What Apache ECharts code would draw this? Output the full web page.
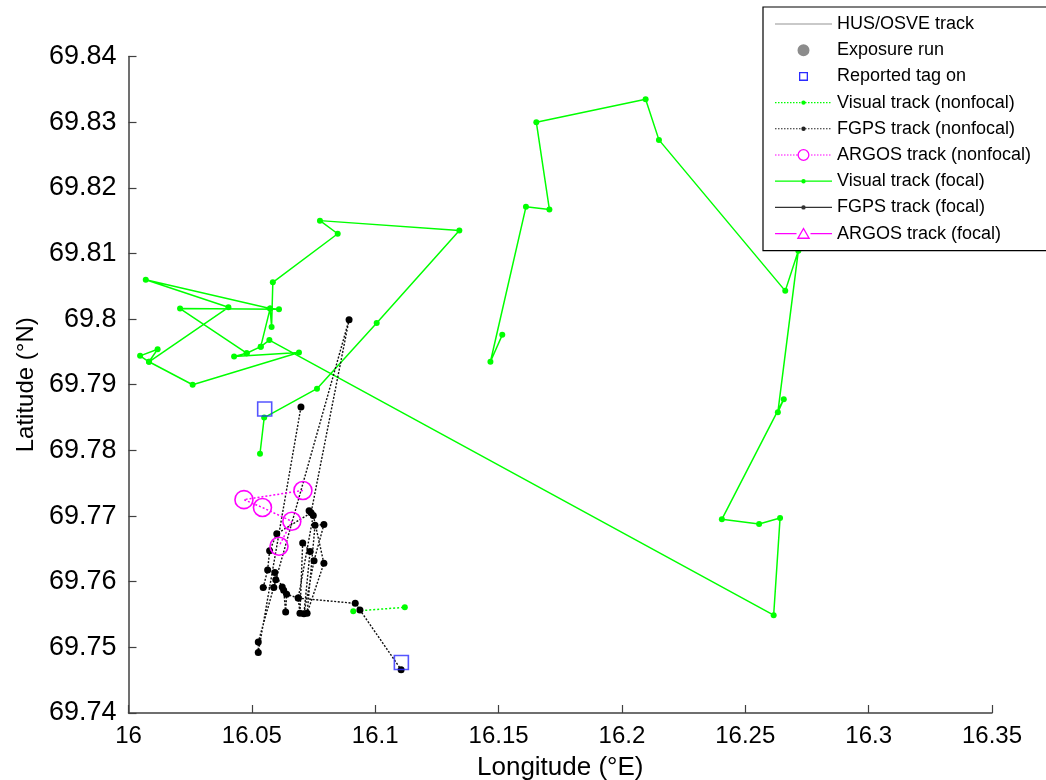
<!DOCTYPE html>
<html><head><meta charset="utf-8">
<script src="https://cdn.jsdelivr.net/npm/echarts@6/dist/echarts.min.js"></script>
<style>html,body{margin:0;padding:0;background:#fff}#chart{width:1046px;height:780px}</style>
</head><body><div id="chart"></div>
<script>
// ---------- data (longitude °E / latitude °N) ----------
const xTicks = [16, 16.05, 16.1, 16.15, 16.2, 16.25, 16.3, 16.35];
const yTicks = [69.74, 69.75, 69.76, 69.77, 69.78, 69.79, 69.8, 69.81, 69.82, 69.83, 69.84];

const focalVisualLon = [16.0533,16.0550,16.0764,16.1006,16.1341,16.0776,16.0848,16.0585,16.0580,16.0574,
  16.0070,16.0405,16.0083,16.0047,16.0118,16.0083,16.0260,16.0691,16.0428,16.0479,16.0536,16.0574,16.0610,
  16.0209,16.0479,16.0536,16.0571,16.2615,16.2641,16.2556,16.2405,16.2656,16.2632,16.2715,16.2662,16.2150,
  16.2096,16.1653,16.1706,16.1611,16.1467,16.1515];
const focalVisualLat = [69.7795,69.7850,69.7894,69.7994,69.8135,69.8150,69.8130,69.8056,69.7988,69.8016,
  69.8060,69.8018,69.7935,69.7944,69.7954,69.7935,69.7900,69.7949,69.7943,69.7948,69.7958,69.8016,69.8015,
  69.8016,69.7948,69.7958,69.7968,69.7549,69.7697,69.7688,69.7695,69.7878,69.7858,69.8104,69.8043,69.8273,
  69.8335,69.8300,69.8167,69.8171,69.7935,69.7976];

const nonfocalVisualLon = [16.0911, 16.1120];
const nonfocalVisualLat = [69.7555, 69.7561];

const nonfocalFgpsLon = [16.0699,16.0526,16.0526,16.0894,16.0740,16.0732,16.0601,16.0572,16.0564,16.0546,
  16.0589,16.0597,16.0593,16.0623,16.0629,16.0637,16.0641,16.0688,16.0695,16.0706,16.0736,16.0711,16.0752,
  16.0792,16.0756,16.0724,16.0792,16.0749,16.0688,16.0919,16.0938,16.1105];
const nonfocalFgpsLat = [69.7866,69.7492,69.7508,69.7999,69.7705,69.7708,69.7673,69.7647,69.7618,69.7591,
  69.7591,69.7603,69.7614,69.7592,69.7587,69.7554,69.7581,69.7575,69.7552,69.7659,69.7646,69.7551,69.7632,
  69.7687,69.7686,69.7552,69.7628,69.7701,69.7575,69.7567,69.7557,69.7466];

const nonfocalArgosLon = [16.0707, 16.0468, 16.0543, 16.0662, 16.0610];
const nonfocalArgosLat = [69.7739, 69.7725, 69.7713, 69.7692, 69.7654];

const tagOnLon = [16.0552, 16.1106];
const tagOnLat = [69.7863, 69.7477];

const seriesNames = ['HUS/OSVE track','Exposure run','Reported tag on','Visual track (nonfocal)',
  'FGPS track (nonfocal)','ARGOS track (nonfocal)','Visual track (focal)','FGPS track (focal)','ARGOS track (focal)'];

// ---------- helpers ----------
const pairs = (xs, ys) => xs.map((x, i) => [x, ys[i]]);
const GREEN = '#00ff00', MAG = '#ff00ff', BLUE = '#2b2bff', BLK = '#000000';

// legend icons drawn in a 57 x 14 box
const W = 57, H = 14, CY = 7;
const anchor = 'M0,0h0.001v0.001h-0.001Z M' + (W - 0.001) + ',' + (H - 0.001) + 'h0.001v0.001h-0.001Z ';
function solidLine(skipA, skipB, th) {
  th = th || 1.2;
  const y0 = CY - th / 2;
  if (skipA == null) return `M0,${y0}H${W}V${y0 + th}H0Z `;
  return `M0,${y0}H${skipA}V${y0 + th}H0Z M${skipB},${y0}H${W}V${y0 + th}H${skipB}Z `;
}
function dottedLine(skipA, skipB) {
  let p = '';
  const th = 1.1, y0 = CY - th / 2;
  for (let x = 0; x < W; x += 3) {
    const x1 = Math.min(x + 1.5, W);
    if (skipA != null && x1 > skipA && x < skipB) continue;
    p += `M${x},${y0}H${x1}V${y0 + th}H${x}Z `;
  }
  return p;
}
function disc(cx, cy, r) {
  return `M${cx + r},${cy}A${r},${r} 0 1,1 ${cx - r},${cy}A${r},${r} 0 1,1 ${cx + r},${cy}Z `;
}
function ring(cx, cy, r, t) {
  const ri = r - t;
  return disc(cx, cy, r) + `M${cx + ri},${cy}A${ri},${ri} 0 1,0 ${cx - ri},${cy}A${ri},${ri} 0 1,0 ${cx + ri},${cy}Z `;
}
function sqRing(cx, cy, s, t) {
  const a = s / 2, b = a - t;
  return `M${cx - a},${cy - a}H${cx + a}V${cy + a}H${cx - a}Z M${cx - b},${cy - b}V${cy + b}H${cx + b}V${cy - b}Z `;
}
function triRing(cx, cy, s, t) {
  const h = s * 0.87;
  const top = cy - h * 0.55, bot = cy + h * 0.45;
  const ti = top + t * 2, bi = bot - t, hw = s / 2, hwi = hw - t * 1.8;
  return `M${cx},${top}L${cx + hw},${bot}L${cx - hw},${bot}Z M${cx},${ti}L${cx - hwi},${bi}L${cx + hwi},${bi}Z `;
}
const MX = W / 2;
const legendIcons = {
  'HUS/OSVE track': anchor + solidLine(null, null, 1.4),
  'Exposure run': anchor + disc(MX, CY, 6),
  'Reported tag on': anchor + sqRing(MX, CY, 9, 1.3),
  'Visual track (nonfocal)': anchor + dottedLine() + disc(MX, CY, 2.2),
  'FGPS track (nonfocal)': anchor + dottedLine() + disc(MX, CY, 2.2),
  'ARGOS track (nonfocal)': anchor + dottedLine(MX - 6, MX + 6) + ring(MX, CY, 6, 1.3),
  'Visual track (focal)': anchor + solidLine() + disc(MX, CY, 2.2),
  'FGPS track (focal)': anchor + solidLine() + disc(MX, CY, 2.2),
  'ARGOS track (focal)': anchor + solidLine(MX - 7, MX + 7) + triRing(MX, CY, 13.5, 1.3)
};
const legendColors = {
  'HUS/OSVE track': '#b8b8b8', 'Exposure run': '#8c8c8c', 'Reported tag on': BLUE,
  'Visual track (nonfocal)': GREEN, 'FGPS track (nonfocal)': '#222', 'ARGOS track (nonfocal)': MAG,
  'Visual track (focal)': GREEN, 'FGPS track (focal)': '#333', 'ARGOS track (focal)': MAG
};

const FONT = '"Liberation Sans", Arial, sans-serif';
const chart = echarts.init(document.getElementById('chart'), null, {renderer: 'canvas'});
const fmt = v => String(+(+v).toFixed(2));

chart.setOption({
  animation: false,
  backgroundColor: '#fff',
  grid: {left: 128.5, right: 54, top: 56.5, bottom: 67, containLabel: false, outerBoundsMode: 'none'},
  xAxis: {
    type: 'value', min: xTicks[0], max: xTicks[xTicks.length - 1], interval: 0.05,
    name: 'Longitude (°E)', nameLocation: 'middle', nameGap: 42,
    nameTextStyle: {fontFamily: FONT, fontSize: 26, color: '#000'},
    axisLine: {onZero: false, lineStyle: {color: '#404040', width: 1.5}},
    axisTick: {inside: true, length: 8, lineStyle: {color: '#404040', width: 1.2}},
    axisLabel: {fontFamily: FONT, fontSize: 24, color: '#000', margin: 11, formatter: fmt},
    splitLine: {show: false}
  },
  yAxis: {
    type: 'value', min: yTicks[0], max: yTicks[yTicks.length - 1], interval: 0.01,
    name: 'Latitude (°N)', nameLocation: 'middle', nameGap: 87,
    nameTextStyle: {fontFamily: FONT, fontSize: 24, color: '#000'},
    axisLine: {onZero: false, lineStyle: {color: '#404040', width: 1.5}},
    axisTick: {inside: true, length: 8, lineStyle: {color: '#404040', width: 1.2}},
    axisLabel: {fontFamily: FONT, fontSize: 27, color: '#000', margin: 12, formatter: fmt},
    splitLine: {show: false}
  },
  legend: {
    orient: 'vertical', left: 763, top: 7,
    padding: [8, 40, 8, 12],
    itemWidth: W, itemHeight: H, itemGap: 8.2,
    backgroundColor: '#fff', borderColor: '#000', borderWidth: 1.2, borderRadius: 0,
    textStyle: {fontFamily: FONT, fontSize: 18, color: '#000', lineHeight: 18},
    selectedMode: false,
    data: seriesNames.map(n => ({
      name: n, icon: 'path://' + legendIcons[n],
      itemStyle: {color: legendColors[n], borderWidth: 0, borderColor: 'transparent', opacity: 1}
    }))
  },
  series: [
    {name: seriesNames[0], type: 'line', data: [], symbol: 'none', lineStyle: {color: '#b8b8b8'}},
    {name: seriesNames[1], type: 'scatter', data: [], itemStyle: {color: '#8c8c8c'}},
    {name: seriesNames[3], type: 'line', data: pairs(nonfocalVisualLon, nonfocalVisualLat), z: 3,
      symbol: 'circle', symbolSize: 6, itemStyle: {color: GREEN},
      lineStyle: {color: GREEN, width: 1.5, type: [2, 2]}},
    {name: seriesNames[6], type: 'line', data: pairs(focalVisualLon, focalVisualLat), z: 2,
      symbol: 'circle', symbolSize: 6, itemStyle: {color: GREEN},
      lineStyle: {color: GREEN, width: 1.5}},
    {name: seriesNames[4], type: 'line', data: pairs(nonfocalFgpsLon, nonfocalFgpsLat), z: 4,
      symbol: 'circle', symbolSize: 7, itemStyle: {color: BLK},
      lineStyle: {color: '#111', width: 1.4, type: [2, 1.6]}},
    {name: seriesNames[5], type: 'line', data: pairs(nonfocalArgosLon, nonfocalArgosLat), z: 5,
      symbol: 'circle', symbolSize: 18,
      itemStyle: {color: 'rgba(0,0,0,0)', borderColor: MAG, borderWidth: 1.6},
      lineStyle: {color: MAG, width: 1.5, type: [2, 2]}},
    {name: seriesNames[2], type: 'scatter', data: pairs(tagOnLon, tagOnLat), z: 6,
      symbol: 'rect', symbolSize: 14,
      itemStyle: {color: 'rgba(0,0,0,0)', borderColor: BLUE, borderWidth: 1.6}},
    {name: seriesNames[7], type: 'line', data: [], symbol: 'circle', itemStyle: {color: BLK}, lineStyle: {color: '#333'}},
    {name: seriesNames[8], type: 'line', data: [], symbol: 'emptyTriangle', itemStyle: {color: MAG}, lineStyle: {color: MAG}}
  ]
});
</script>
</body></html>
